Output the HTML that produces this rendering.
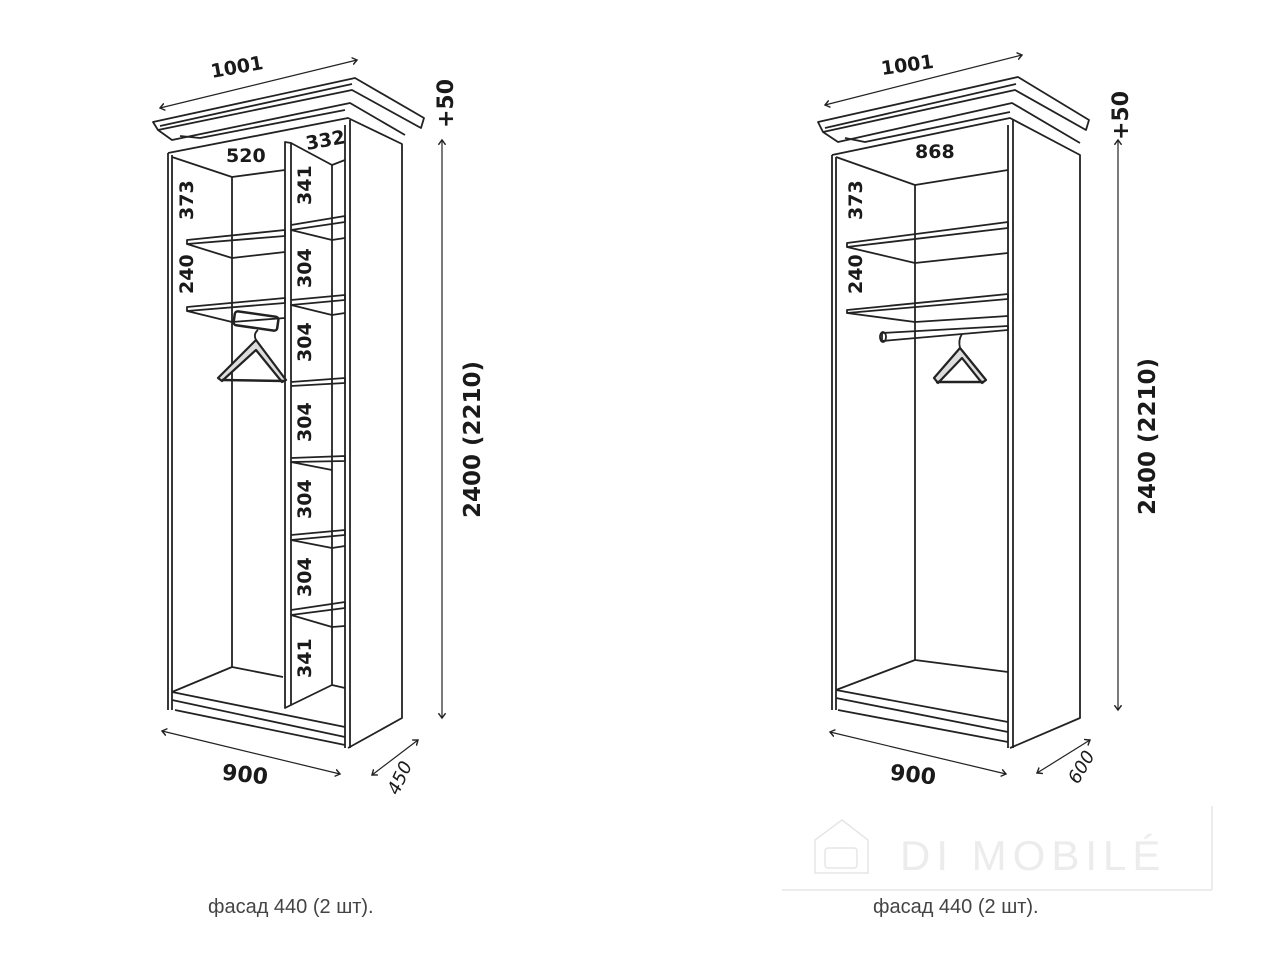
<!DOCTYPE html>
<html><head><meta charset="utf-8"><style>
html,body{margin:0;padding:0;background:#fff;}
svg{display:block}
.b{font-family:"DejaVu Sans","Liberation Sans",sans-serif;font-weight:bold;font-size:19px;fill:#1a1a1a}
.c{font-family:"Liberation Sans",sans-serif;font-size:20px;fill:#444}
</style></head><body>
<svg width="1280" height="960" viewBox="0 0 1280 960" xmlns="http://www.w3.org/2000/svg">
<defs>
<marker id="a" markerWidth="8" markerHeight="8" refX="4" refY="4" orient="auto-start-reverse"><path d="M0,1 L4,4 L0,7" fill="none" stroke="#222" stroke-width="1.2"/></marker>
</defs>
<g fill="none" stroke="#222" stroke-width="1.8" stroke-linejoin="round">
<polygon points="153,122 355,78 424,118 421,128 352,90 158,130"/>
<polyline points="158,130 172,140 350,103 405,135"/>
<line x1="160" y1="126" x2="352" y2="84"/>
<polyline points="180,136 200,138 345,110"/>
<polyline points="168,153 348,118 402,144 402,718 348,748"/>
<line x1="168" y1="153" x2="168" y2="710"/>
<line x1="172" y1="155" x2="172" y2="710"/>
<line x1="345" y1="125" x2="345" y2="748"/>
<line x1="350" y1="120" x2="350" y2="748"/>
<polyline points="172,157 232,177 285,170"/>
<line x1="232" y1="177" x2="232" y2="667"/>
<polyline points="172,692 232,667 283,677"/>
<polyline points="172,692 345,727"/>
<polyline points="172,700 345,737"/>
<line x1="175" y1="710" x2="345" y2="745"/>
<polygon points="285,142 291,143 291,705 285,708"/>
<polyline points="291,143 332,165 345,160"/>
<line x1="332" y1="165" x2="332" y2="685"/>
<polyline points="291,705 332,685 345,688"/>
<polygon points="187,240 285,230 285,236 187,244"/>
<polyline points="187,244 232,258 285,252"/>
<polygon points="187,307 285,298 285,303 187,311"/>
<polyline points="187,311 232,322 285,318"/>
<g>
<polyline points="291,225 345,216 345,222 291,230 332,240 345,238"/>
<polyline points="291,300 345,295 345,300 291,305 332,315 345,313"/>
<polyline points="291,382 345,378 345,383 291,386"/>
<polyline points="291,458 345,456 345,461 291,462 332,470"/>
<polyline points="291,535 345,530 345,535 291,540 332,548 345,546"/>
<polyline points="291,610 345,602 345,608 291,615 332,627 345,626"/>
</g>
<rect x="234" y="314" width="44" height="14" rx="3" transform="rotate(8 256 321)" stroke-width="2.5"/>
<polygon points="256,340 218,378 222,381 256,350 282,382 286,380" stroke-width="2.2" fill="#ddd"/>
<line x1="222" y1="380" x2="284" y2="381" stroke-width="2.5"/>
<path d="M256,340 q-3,-6 2,-10"/>
<line x1="160" y1="108" x2="357" y2="60" marker-start="url(#a)" marker-end="url(#a)" stroke-width="1.2"/>
<line x1="442" y1="140" x2="442" y2="718" marker-start="url(#a)" marker-end="url(#a)" stroke-width="1.2"/>
<line x1="162" y1="731" x2="340" y2="774" marker-start="url(#a)" marker-end="url(#a)" stroke-width="1.2"/>
<line x1="372" y1="775" x2="418" y2="740" marker-start="url(#a)" marker-end="url(#a)" stroke-width="1.2"/>

<polygon points="818,122 1018,77 1089,120 1086,130 1015,90 823,132"/>
<polyline points="823,132 838,142 1012,103 1080,143"/>
<line x1="825" y1="128" x2="1016" y2="84"/>
<polyline points="845,138 865,142 1010,112"/>
<polyline points="832,155 1010,118 1080,155 1080,718 1010,748"/>
<line x1="832" y1="155" x2="832" y2="710"/>
<line x1="836" y1="157" x2="836" y2="710"/>
<line x1="1008" y1="125" x2="1008" y2="748"/>
<line x1="1013" y1="120" x2="1013" y2="748"/>
<polyline points="836,157 915,185 1008,170"/>
<line x1="915" y1="185" x2="915" y2="660"/>
<polyline points="836,690 915,660 1008,672"/>
<polyline points="836,690 1008,722"/>
<polyline points="836,698 1008,732"/>
<line x1="838" y1="710" x2="1008" y2="742"/>
<polygon points="847,243 1008,222 1008,228 847,247"/>
<polyline points="847,247 915,263 1008,253"/>
<polygon points="847,310 1008,294 1008,299 847,313"/>
<polyline points="847,313 915,322 1008,316"/>
<polygon points="882,333 1008,326 1008,330 882,341"/>
<ellipse cx="883" cy="337" rx="3" ry="5"/>
<polygon points="960,348 934,378 938,383 962,358 982,383 986,380" stroke-width="2.2" fill="#ddd"/>
<line x1="936" y1="382" x2="984" y2="382" stroke-width="2.5"/>
<path d="M960,348 q-2,-8 2,-14"/>
<line x1="825" y1="105" x2="1022" y2="55" marker-start="url(#a)" marker-end="url(#a)" stroke-width="1.2"/>
<line x1="1118" y1="140" x2="1118" y2="710" marker-start="url(#a)" marker-end="url(#a)" stroke-width="1.2"/>
<line x1="830" y1="732" x2="1006" y2="774" marker-start="url(#a)" marker-end="url(#a)" stroke-width="1.2"/>
<line x1="1037" y1="773" x2="1090" y2="740" marker-start="url(#a)" marker-end="url(#a)" stroke-width="1.2"/>
</g>

<text class="b" transform="translate(212,78) rotate(-10)">1001</text>
<text class="b" x="226" y="162">520</text>
<text class="b" transform="translate(307,150) rotate(-10)">332</text>
<g class="b">
<text transform="translate(193,220) rotate(-90)">373</text>
<text transform="translate(193,294) rotate(-90)">240</text>
<text transform="translate(311,205) rotate(-90)">341</text>
<text transform="translate(311,288) rotate(-90)">304</text>
<text transform="translate(311,362) rotate(-90)">304</text>
<text transform="translate(311,442) rotate(-90)">304</text>
<text transform="translate(311,519) rotate(-90)">304</text>
<text transform="translate(311,597) rotate(-90)">304</text>
<text transform="translate(311,678) rotate(-90)">341</text>
<text transform="translate(453,128) rotate(-90)" font-size="22">+50</text>
<text transform="translate(480,518) rotate(-90)" font-size="23">2400 (2210)</text>
<text x="222" y="782" font-size="22" transform="rotate(6 245 775)">900</text>
<text transform="translate(398,796) rotate(-65)" font-weight="normal" font-style="italic" font-size="18">450</text>
</g>
<g class="b">
<text transform="translate(882,75) rotate(-8)">1001</text>
<text x="915" y="158">868</text>
<text transform="translate(862,220) rotate(-90)">373</text>
<text transform="translate(862,294) rotate(-90)">240</text>
<text transform="translate(1128,140) rotate(-90)" font-size="22">+50</text>
<text transform="translate(1155,515) rotate(-90)" font-size="23">2400 (2210)</text>
<text x="890" y="782" font-size="22" transform="rotate(6 912 775)">900</text>
<text transform="translate(1078,785) rotate(-60)" font-weight="normal" font-style="italic" font-size="18">600</text>
</g>
<g stroke="#e6e6e6" fill="none" stroke-width="1.5">
<line x1="782" y1="890" x2="1212" y2="890"/>
<line x1="1212" y1="806" x2="1212" y2="890"/>
<path d="M815,873 V840 L842,820 L868,840 V873 Z"/>
<rect x="825" y="848" width="32" height="20" rx="3"/>
</g>
<text x="900" y="870" font-family="Liberation Sans,sans-serif" font-size="42" fill="#ececec" letter-spacing="6">DI MOBILÉ</text>
<text class="c" x="208" y="913">фасад 440 (2 шт).</text>
<text class="c" x="873" y="913">фасад 440 (2 шт).</text>
</svg>
</body></html>
